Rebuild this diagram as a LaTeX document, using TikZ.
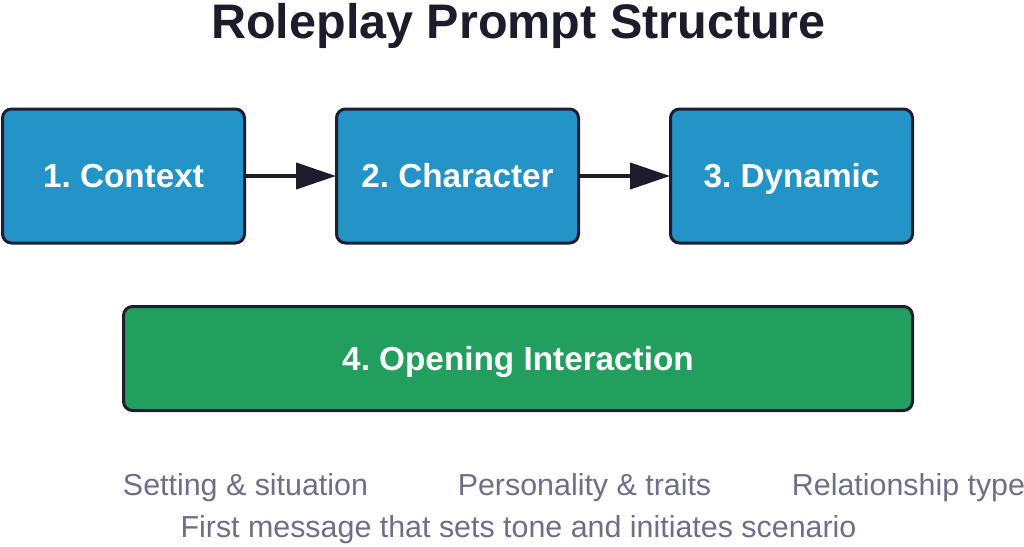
\documentclass[tikz,border=0pt]{standalone}
\usepackage{fontspec}
\setmainfont{Liberation Sans}
\usetikzlibrary{arrows.meta}
\definecolor{stepblue}{HTML}{2494C8}
\definecolor{stepgreen}{HTML}{229E5F}
\definecolor{edgedark}{HTML}{1E1E2E}
\definecolor{notegray}{HTML}{6E6E88}
\definecolor{titledark}{HTML}{1C1C2C}
\tikzset{
  stepbox/.style={draw=edgedark, line width=3pt, rounded corners=9pt, fill=stepblue,
    minimum width=242pt, minimum height=134pt, inner sep=0pt,
    text=white, font=\fontsize{33.3}{37}\selectfont\bfseries, text height=23.5pt, text depth=0pt},
  openbox/.style={stepbox, fill=stepgreen, minimum width=789pt, minimum height=104pt},
  flowarrow/.style={draw=titledark, line width=4pt, -{Triangle[length=40pt,width=26pt]}, shorten >=-1pt},
  note/.style={anchor=base, text=notegray, font=\fontsize{30.4}{34}\selectfont, inner sep=0pt},
  titletext/.style={anchor=base, text=titledark, font=\fontsize{48.5}{54}\selectfont\bfseries, inner sep=0pt}
}
\begin{document}
\frenchspacing
\begin{tikzpicture}[x=1pt,y=-1pt]
\useasboundingbox[fill=white] (0,0) rectangle (1024,546);
\node[titletext] (title) at (518.5,38) {Roleplay Prompt Structure};
\node[stepbox] (b1) at (123.5,176) {1. Context};
\node[stepbox] (b2) at (457.5,176) {2. Character};
\node[stepbox] (b3) at (791.5,176) {3. Dynamic};
\node[openbox] (b4) at (518,358.5) {4. Opening Interaction};
\draw[flowarrow] (b1.east) -- (b2.west);
\draw[flowarrow] (b2.east) -- (b3.west);
\node[note] (n1) at (245.5,495) {Setting \& situation};
\node[note] (n2) at (584.5,495) {Personality \& traits};
\node[note] (n3) at (908.5,495) {Relationship type};
\node[note] (n4) at (518.5,537) {First message that sets tone and initiates scenario};
\end{tikzpicture}
\end{document}
